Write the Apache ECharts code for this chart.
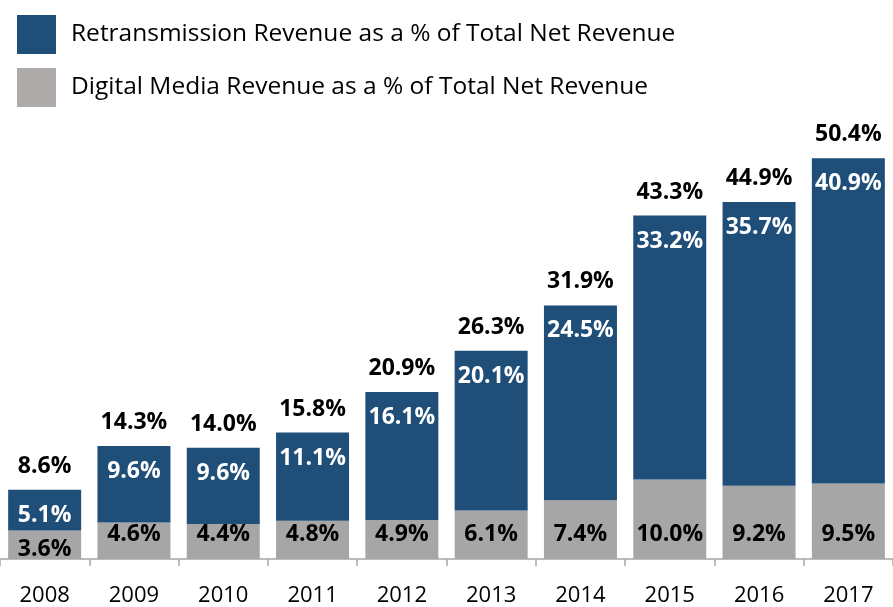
<!DOCTYPE html>
<html><head><meta charset="utf-8">
<script src="https://cdn.jsdelivr.net/npm/echarts@6/dist/echarts.min.js"></script>
<style>html,body{margin:0;padding:0;background:#fff}#c{width:893px;height:607px}</style>
</head><body><div id="c"></div>
<script>
var years = ['2008','2009','2010','2011','2012','2013','2014','2015','2016','2017'];
var digitalMedia = [3.6, 4.6, 4.4, 4.8, 4.9, 6.1, 7.4, 10.0, 9.2, 9.5];
var retransmission = [5.1, 9.6, 9.6, 11.1, 16.1, 20.1, 24.5, 33.2, 35.7, 40.9];
var totals = [8.6, 14.3, 14.0, 15.8, 20.9, 26.3, 31.9, 43.3, 44.9, 50.4];
var seriesNames = ['Retransmission Revenue as a % of Total Net Revenue', 'Digital Media Revenue as a % of Total Net Revenue'];

var FONT = 'Open Sans';
var chart = echarts.init(document.getElementById('c'));
var grayData = digitalMedia.map(function (v, i) {
  if (v < 4) return { value: v, label: { position: 'insideBottom', distance: -2 } };
  return v;
});
chart.setOption({
  animation: false,
  legend: {
    orient: 'vertical', left: 12, top: 10,
    itemWidth: 39, itemHeight: 39, itemGap: 14,
    textStyle: { fontFamily: FONT, fontSize: 24.5, color: '#000', padding: [0, 0, 0, 10] },
    icon: 'rect',
    data: [
      { name: seriesNames[0], itemStyle: { color: '#1f4e79' } },
      { name: seriesNames[1], itemStyle: { color: '#aeaaaa' } }
    ]
  },
  grid: { left: -3.5, right: -4.5, top: 82, bottom: 45, containLabel: false },
  xAxis: {
    type: 'category', data: years,
    axisLine: { lineStyle: { color: '#a6a6a6', width: 1.5 } },
    axisTick: { show: true, length: 7, lineStyle: { color: '#a6a6a6', width: 1.5 } },
    axisLabel: { fontFamily: FONT, fontSize: 22, color: '#000', margin: 26 }
  },
  yAxis: { type: 'value', min: 0, max: 60, show: false, splitLine: { show: false } },
  series: [
    {
      name: seriesNames[1], type: 'bar', stack: 's', barWidth: 73,
      itemStyle: { color: '#a6a6a6' },
      label: { show: true, position: 'insideBottom', distance: 13, fontFamily: FONT, fontWeight: 'bold', fontSize: 23, color: '#000',
        formatter: function (p) { return p.value.toFixed(1) + '%'; } },
      data: grayData
    },
    {
      name: seriesNames[0], type: 'bar', stack: 's', barWidth: 73,
      itemStyle: { color: '#1f4e79' },
      label: { show: true, position: 'insideTop', distance: 14, fontFamily: FONT, fontWeight: 'bold', fontSize: 23, color: '#fff',
        formatter: function (p) { return p.value.toFixed(1) + '%'; } },
      data: retransmission
    },
    {
      name: 'total', type: 'bar', stack: 's', barWidth: 73,
      itemStyle: { color: 'transparent' },
      label: { show: true, position: 'top', distance: 12, fontFamily: FONT, fontWeight: 'bold', fontSize: 23, color: '#000',
        formatter: function (p) { return totals[p.dataIndex].toFixed(1) + '%'; } },
      data: totals.map(function () { return 0; })
    }
  ]
});
</script></body></html>
